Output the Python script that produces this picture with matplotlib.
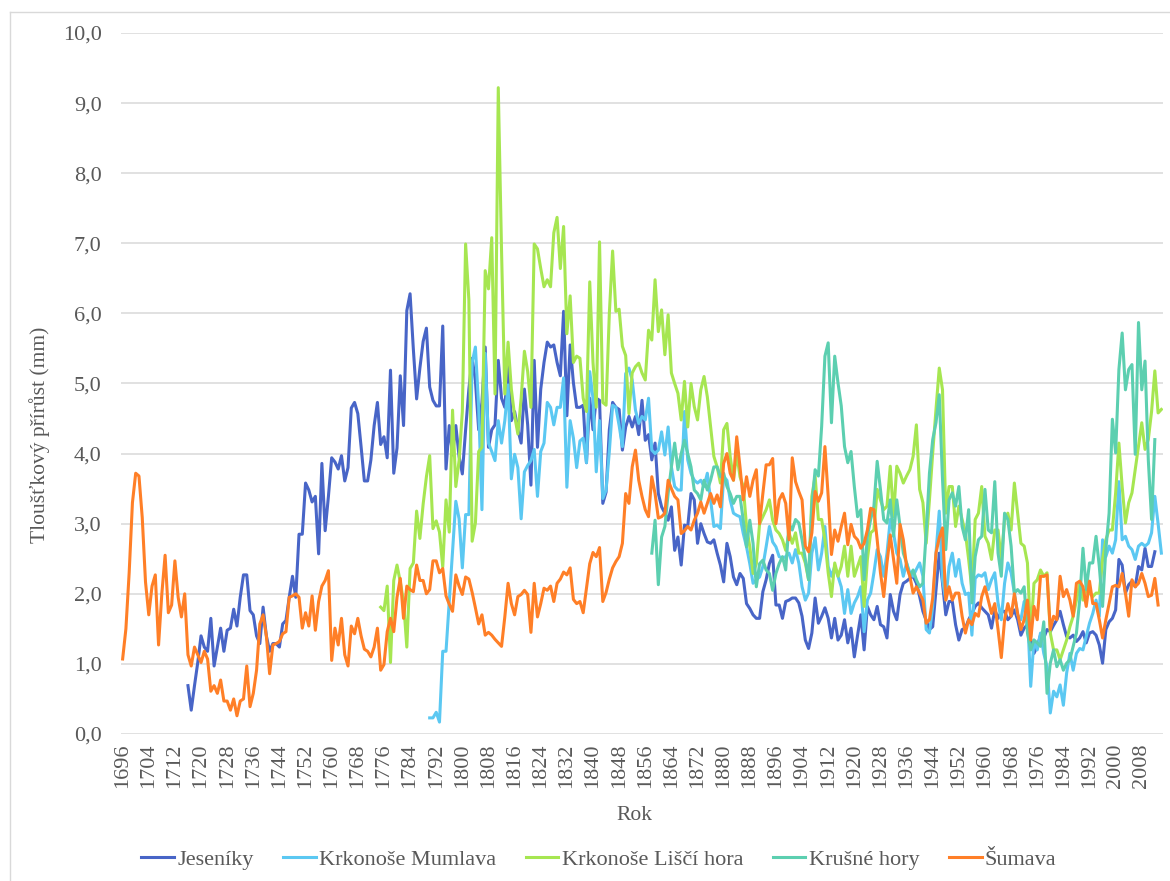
import numpy as np
import matplotlib
matplotlib.use("Agg")
import matplotlib.pyplot as plt
from matplotlib.ticker import FuncFormatter
from matplotlib.lines import Line2D

plt.rcParams['font.family'] = ['Liberation Serif', 'DejaVu Serif']

# ---- data (annual ring-width increments, mm) ----
jeseniky_start = 1716
jeseniky = [
    0.69, 0.34, 0.69, 1.02, 1.40, 1.24, 1.18, 1.65, 0.97, 1.24,
    1.51, 1.18, 1.48, 1.51, 1.78, 1.54, 1.95, 2.27, 2.27, 1.76,
    1.70, 1.40, 1.29, 1.81, 1.40, 1.18, 1.29, 1.29, 1.24, 1.57,
    1.62, 1.95, 2.25, 1.95, 2.85, 2.85, 3.58, 3.48, 3.31, 3.39,
    2.57, 3.86, 2.90, 3.39, 3.94, 3.88, 3.78, 3.97, 3.61, 3.80,
    4.65, 4.73, 4.57, 4.10, 3.61, 3.61, 3.91, 4.40, 4.73, 4.13,
    4.24, 3.94, 5.19, 3.72, 4.08, 5.11, 4.40, 6.04, 6.28, 5.49,
    4.78, 5.22, 5.60, 5.79, 4.95, 4.76, 4.68, 4.68, 5.82, 3.78,
    4.40, 3.98, 4.40, 3.96, 3.71, 4.34, 4.92, 5.36, 5.04, 4.34,
    4.73, 5.52, 4.09, 4.34, 4.41, 5.33, 4.79, 4.66, 5.30, 4.47,
    4.60, 4.34, 4.15, 4.92, 4.41, 3.55, 5.33, 4.09, 4.92, 5.30,
    5.59, 5.52, 5.55, 5.30, 5.11, 6.03, 4.54, 5.55, 5.01, 4.66,
    4.66, 4.69, 3.87, 4.79, 4.34, 4.79, 4.76, 3.29, 3.45, 4.34,
    4.73, 4.66, 4.63, 4.05, 4.38, 4.53, 4.38, 4.53, 4.27, 4.76,
    4.19, 4.27, 3.91, 4.15, 3.43, 3.24, 3.15, 3.05, 3.24, 2.62,
    2.81, 2.41, 2.98, 2.96, 3.43, 3.34, 2.72, 3.00, 2.86, 2.74,
    2.72, 2.77, 2.58, 2.41, 2.17, 2.72, 2.53, 2.24, 2.13, 2.29,
    2.22, 1.86, 1.79, 1.70, 1.65, 1.65, 2.03, 2.20, 2.43, 2.55,
    1.84, 1.84, 1.65, 1.89, 1.91, 1.94, 1.94, 1.87, 1.68, 1.34,
    1.22, 1.44, 1.94, 1.58, 1.68, 1.80, 1.65, 1.37, 1.65, 1.34,
    1.41, 1.63, 1.30, 1.51, 1.10, 1.41, 1.70, 1.20, 1.82, 1.70,
    1.63, 1.82, 1.56, 1.53, 1.37, 1.99, 1.75, 1.63, 1.99, 2.15,
    2.18, 2.22, 2.25, 2.15, 1.96, 1.75, 1.62, 1.49, 1.53, 2.06,
    2.58, 2.15, 1.70, 1.89, 1.89, 1.56, 1.34, 1.49, 1.51, 1.63,
    1.72, 1.82, 1.87, 1.80, 1.75, 1.70, 1.51, 1.77, 1.65, 1.75,
    1.75, 1.63, 1.68, 1.77, 1.63, 1.41, 1.51, 1.56, 1.34, 1.15,
    1.25, 1.41, 1.37, 1.49, 1.46, 1.55, 1.63, 1.75, 1.56, 1.39,
    1.37, 1.41, 1.32, 1.37, 1.46, 1.30, 1.44, 1.46, 1.41, 1.27,
    1.01, 1.49, 1.60, 1.65, 1.77, 2.49, 2.41, 2.01, 2.13, 2.18,
    2.10, 2.39, 2.34, 2.65, 2.39, 2.39, 2.60,
]

mumlava_start = 1790
mumlava = [
    0.23, 0.23, 0.31, 0.17, 1.18, 1.18, 1.89, 2.60, 3.32, 3.07,
    2.37, 3.13, 3.13, 5.30, 5.52, 4.66, 3.20, 5.43, 4.15, 4.03,
    3.90, 4.47, 4.15, 4.47, 4.98, 3.64, 3.99, 3.80, 3.07, 3.74,
    3.83, 3.90, 4.06, 3.39, 4.03, 4.15, 4.73, 4.66, 4.41, 4.66,
    4.66, 5.08, 3.52, 4.47, 4.22, 3.80, 4.18, 4.22, 3.87, 5.17,
    4.79, 3.74, 4.47, 3.36, 3.48, 4.03, 4.69, 4.66, 4.40, 4.10,
    5.14, 5.22, 5.05, 4.62, 4.43, 4.53, 4.48, 4.79, 4.05, 4.00,
    4.05, 4.31, 3.98, 4.38, 3.81, 3.53, 3.48, 3.48, 4.60, 3.91,
    3.72, 3.62, 3.58, 3.62, 3.53, 3.72, 3.34, 2.96, 2.98, 2.93,
    3.67, 3.62, 3.34, 3.15, 3.12, 3.10, 2.86, 2.67, 2.43, 2.15,
    2.20, 2.24, 2.39, 2.67, 2.96, 2.74, 2.67, 2.53, 2.51, 2.53,
    2.58, 2.44, 2.63, 2.44, 2.10, 1.91, 2.01, 2.58, 2.80, 2.34,
    2.58, 2.96, 2.39, 2.25, 2.39, 2.25, 2.10, 1.72, 2.06, 1.72,
    1.87, 1.96, 2.10, 1.46, 1.91, 2.01, 2.30, 2.63, 2.53, 2.25,
    2.58, 3.06, 2.87, 2.58, 2.49, 2.25, 2.44, 2.30, 2.25, 2.35,
    2.44, 2.25, 1.49, 1.44, 1.82, 2.58, 3.18, 2.20, 1.91, 2.39,
    2.58, 2.25, 2.49, 2.15, 1.99, 2.01, 1.41, 2.22, 2.27, 2.25,
    2.30, 2.06, 2.20, 2.30, 1.87, 1.63, 2.15, 2.44, 2.30, 2.01,
    1.70, 1.63, 1.89, 1.72, 0.68, 1.34, 1.20, 1.44, 1.15, 0.96,
    0.30, 0.61, 0.53, 0.70, 0.41, 0.87, 1.15, 0.91, 1.15, 1.22,
    1.20, 1.39, 1.58, 1.72, 1.91, 1.68, 2.77, 2.53, 2.68, 2.58,
    2.77, 3.60, 2.77, 2.82, 2.68, 2.63, 2.49, 2.68, 2.72, 2.68,
    2.72, 2.87, 3.39, 3.00, 2.58,
]

lisci_start = 1775
lisci = [
    1.81, 1.76, 2.11, 1.02, 2.19, 2.41, 2.17, 1.89, 1.24, 2.36,
    2.44, 3.18, 2.79, 3.28, 3.67, 3.97, 2.93, 3.04, 2.88, 2.38,
    3.34, 2.88, 4.62, 3.53, 3.90, 4.60, 6.99, 6.19, 2.75, 3.01,
    4.03, 4.09, 6.61, 6.35, 7.08, 4.85, 9.22, 6.89, 4.85, 5.59,
    4.92, 4.54, 4.28, 4.79, 5.46, 5.17, 4.66, 6.99, 6.92, 6.64,
    6.38, 6.48, 6.38, 7.15, 7.37, 6.64, 7.24, 5.71, 6.25, 5.30,
    5.39, 5.36, 4.79, 4.60, 6.45, 5.30, 4.66, 7.02, 4.73, 4.69,
    6.00, 6.89, 6.03, 6.06, 5.53, 5.40, 4.57, 5.15, 5.24, 5.29,
    5.15, 5.05, 5.76, 5.62, 6.48, 5.74, 6.05, 5.41, 5.98, 5.15,
    5.00, 4.86, 4.48, 5.03, 4.38, 5.00, 4.67, 4.48, 4.91, 5.10,
    4.81, 4.38, 3.96, 3.81, 3.58, 4.34, 4.43, 3.96, 3.62, 4.00,
    3.67, 3.53, 2.96, 2.67, 2.29, 2.43, 3.00, 3.10, 3.20, 3.34,
    3.05, 2.91, 2.86, 2.77, 2.62, 2.87, 2.72, 2.87, 2.58, 2.58,
    2.44, 2.20, 3.39, 3.68, 3.06, 3.06, 2.77, 2.30, 1.96, 2.44,
    2.25, 2.39, 2.68, 2.25, 2.68, 2.25, 2.39, 2.53, 1.82, 2.49,
    2.87, 2.91, 3.49, 3.34, 3.20, 3.25, 3.82, 3.10, 3.82, 3.72,
    3.58, 3.68, 3.77, 3.96, 4.41, 3.49, 3.30, 2.72, 3.34, 4.01,
    4.63, 5.22, 4.91, 3.15, 3.53, 3.53, 2.96, 3.25, 3.06, 2.87,
    2.49, 2.06, 3.06, 3.15, 3.53, 2.82, 2.72, 2.49, 2.91, 2.91,
    2.49, 3.06, 3.15, 2.91, 3.58, 3.15, 2.72, 2.68, 2.44, 1.39,
    2.15, 2.20, 2.34, 2.25, 2.30, 1.44, 1.20, 1.20, 1.06, 1.20,
    1.34, 1.53, 1.68, 1.91, 2.15, 1.91, 2.06, 2.01, 1.96, 2.01,
    2.01, 2.49, 2.77, 2.91, 2.91, 3.44, 4.15, 3.53, 3.01, 3.30,
    3.44, 3.77, 4.10, 4.44, 4.06, 4.20, 4.60, 5.18, 4.58, 4.63,
]

krusne_start = 1858
krusne = [
    2.58, 3.05, 2.13, 2.81, 2.96, 3.43, 3.81, 4.15, 3.77, 4.00,
    4.19, 4.00, 3.81, 3.48, 3.43, 3.34, 3.62, 3.48, 3.62, 3.81,
    3.81, 3.67, 3.72, 3.53, 3.43, 3.29, 3.39, 3.39, 3.05, 2.67,
    3.05, 2.72, 2.10, 2.43, 2.48, 2.34, 2.29, 2.05, 2.29, 2.43,
    2.53, 2.34, 3.00, 2.91, 3.06, 3.01, 2.77, 2.49, 2.20, 3.25,
    3.77, 3.68, 4.39, 5.39, 5.58, 4.44, 5.39, 5.01, 4.68, 4.10,
    3.87, 4.03, 3.53, 3.10, 3.20, 2.20, 2.82, 3.06, 3.25, 3.89,
    3.49, 3.06, 3.01, 3.34, 2.82, 3.34, 2.96, 2.58, 2.44, 2.25,
    2.34, 2.20, 2.10, 2.15, 2.87, 3.72, 4.20, 4.44, 4.84, 3.63,
    2.63, 3.34, 3.44, 3.25, 3.53, 2.96, 2.77, 3.20, 1.87, 2.53,
    2.77, 2.82, 3.49, 2.91, 2.87, 3.60, 2.58, 2.25, 3.15, 3.06,
    2.68, 2.01, 2.06, 2.01, 2.10, 1.44, 1.20, 1.34, 1.30, 1.25,
    1.60, 0.58, 1.01, 1.20, 0.96, 1.06, 0.91, 1.01, 1.06, 1.25,
    1.44, 1.91, 2.65, 2.06, 2.44, 2.44, 2.82, 2.39, 1.82, 2.63,
    3.15, 4.49, 4.01, 5.20, 5.72, 4.91, 5.20, 5.27, 3.99, 5.87,
    4.91, 5.32, 3.91, 3.06, 4.20,
]

sumava_start = 1696
sumava = [
    1.07, 1.50, 2.30, 3.30, 3.72, 3.68, 3.09, 2.17, 1.70, 2.11,
    2.27, 1.27, 2.00, 2.55, 1.73, 1.84, 2.47, 1.95, 1.67, 2.00,
    1.13, 0.97, 1.24, 1.13, 1.02, 1.18, 1.07, 0.61, 0.69, 0.58,
    0.77, 0.47, 0.47, 0.34, 0.50, 0.26, 0.47, 0.50, 0.97, 0.39,
    0.58, 0.91, 1.57, 1.70, 1.40, 0.86, 1.27, 1.29, 1.32, 1.43,
    1.46, 1.95, 1.97, 2.00, 1.95, 1.51, 1.73, 1.54, 1.97, 1.48,
    1.89, 2.11, 2.19, 2.33, 1.05, 1.51, 1.27, 1.65, 1.13, 0.97,
    1.54, 1.43, 1.65, 1.40, 1.21, 1.18, 1.10, 1.24, 1.51, 0.91,
    0.99, 1.46, 1.65, 1.46, 1.95, 2.22, 1.65, 2.11, 2.06, 2.03,
    2.41, 2.19, 2.19, 2.00, 2.06, 2.47, 2.47, 2.30, 2.36, 1.97,
    1.85, 1.75, 2.27, 2.11, 1.99, 2.24, 2.21, 2.02, 1.80, 1.57,
    1.70, 1.41, 1.45, 1.41, 1.35, 1.30, 1.25, 1.67, 2.15, 1.86,
    1.70, 1.96, 1.99, 2.05, 1.99, 1.45, 2.15, 1.67, 1.86, 2.08,
    2.05, 2.11, 1.89, 2.15, 2.21, 2.31, 2.27, 2.37, 1.92, 1.86,
    1.89, 1.73, 2.08, 2.43, 2.59, 2.53, 2.66, 1.89, 2.02, 2.21,
    2.37, 2.46, 2.53, 2.72, 3.43, 3.29, 3.81, 4.05, 3.62, 3.39,
    3.20, 3.10, 3.67, 3.43, 3.08, 3.10, 3.15, 3.62, 3.50, 3.39,
    3.34, 2.86, 2.90, 2.96, 2.91, 3.05, 3.15, 3.31, 3.15, 3.29,
    3.43, 3.29, 3.41, 3.24, 3.86, 4.00, 3.72, 3.62, 4.24, 3.81,
    3.34, 3.67, 3.39, 3.62, 3.77, 3.00, 3.43, 3.84, 3.84, 3.93,
    3.00, 3.34, 3.43, 3.29, 2.77, 3.94, 3.60, 3.46, 3.34, 2.68,
    2.60, 2.87, 3.46, 3.32, 3.44, 4.10, 3.39, 2.56, 2.91, 2.75,
    2.96, 3.15, 2.70, 2.99, 2.82, 2.77, 2.65, 2.72, 2.91, 3.22,
    3.20, 2.77, 2.30, 1.96, 2.44, 2.84, 2.49, 2.15, 2.99, 2.77,
    2.39, 2.25, 2.01, 2.10, 2.01, 1.91, 1.58, 1.63, 1.94, 2.58,
    2.80, 2.94, 1.91, 2.10, 1.91, 2.01, 2.01, 1.68, 1.44, 1.63,
    1.56, 1.72, 1.68, 1.96, 2.10, 1.91, 1.72, 1.86, 1.49, 1.09,
    1.63, 1.86, 1.68, 2.00, 1.72, 1.49, 1.63, 1.91, 1.34, 1.82,
    1.63, 2.25, 2.25, 2.27, 1.49, 1.68, 1.63, 2.25, 1.96, 2.06,
    1.91, 1.68, 2.15, 2.18, 2.10, 1.82, 2.18, 1.86, 1.86, 1.63,
    1.37, 1.63, 1.86, 2.10, 2.12, 2.10, 2.29, 2.01, 1.68, 2.20,
    2.10, 2.15, 2.29, 2.15, 1.96, 1.98, 2.22, 1.84,
]

series = [
    ("Jeseníky", jeseniky_start, jeseniky, "#4865C7"),
    ("Krkonoše Mumlava", mumlava_start, mumlava, "#5BC8F2"),
    ("Krkonoše Liščí hora", lisci_start, lisci, "#A6E651"),
    ("Krušné hory", krusne_start, krusne, "#5CCFB0"),
    ("Šumava", sumava_start, sumava, "#FF7F27"),
]

text_col = "#595959"
grid_col = "#D9D9D9"
W, H = 1170, 881

fig = plt.figure(figsize=(W / 100, H / 100), dpi=100)
ax = fig.add_axes([121 / W, (H - 734) / H, (1163 - 121) / W, (734 - 33) / H])

for name, start, vals, col in series:
    yrs = np.arange(start, start + len(vals))
    ax.plot(yrs, vals, color=col, lw=2.2, label=name, solid_joinstyle="round")

ax.set_xlim(1695.5, 2014.5)
ax.set_ylim(0, 10)
ax.set_yticks(np.arange(0, 11, 1))
ax.yaxis.set_major_formatter(FuncFormatter(lambda v, p: f"{v:.1f}".replace(".", ",")))
ax.set_xticks(np.arange(1696, 2009, 8))
ax.tick_params(axis="x", rotation=90, length=0, pad=7, labelsize=16, labelcolor=text_col)
ax.tick_params(axis="y", length=0, pad=14, labelsize=16, labelcolor=text_col)
ax.grid(axis="y", color=grid_col, lw=1.1)
ax.set_axisbelow(True)
for s in ax.spines.values():
    s.set_visible(False)

fig.text(40 / W, 1 - 435 / H, "Tloušťkový přírůst (mm)", rotation=90,
         ha="center", va="center", fontsize=15.5, color=text_col)
fig.text(634 / W, 1 - 815 / H, "Rok", ha="center", va="center",
         fontsize=15.5, color=text_col)

fig.legend(loc="center", bbox_to_anchor=(599 / W, 1 - 860 / H), ncol=5,
           frameon=False, fontsize=16, labelcolor=text_col,
           handlelength=1.45, handletextpad=0.15, columnspacing=1.35)

# chart area border
fig.add_artist(Line2D([10 / W, 10 / W], [0, 1 - 12 / H], color=grid_col, lw=1,
                      transform=fig.transFigure))
fig.add_artist(Line2D([10 / W, 1], [1 - 12 / H, 1 - 12 / H], color=grid_col, lw=1,
                      transform=fig.transFigure))

fig.savefig("out.png", dpi=100)
